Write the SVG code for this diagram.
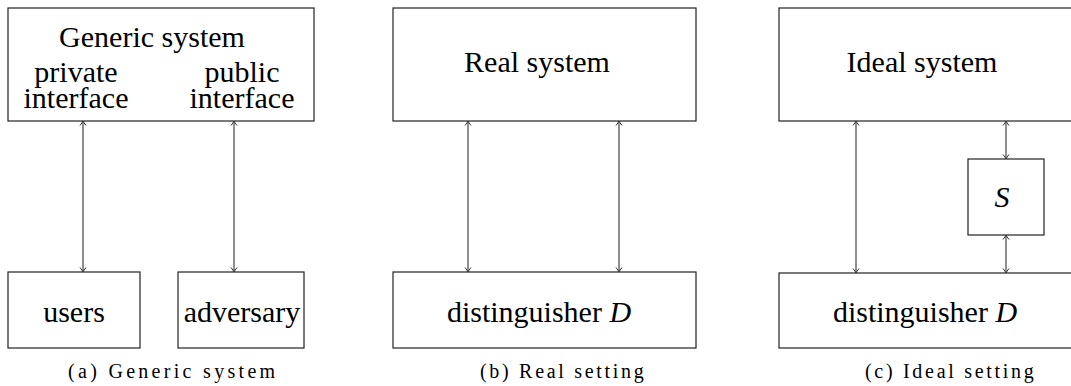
<svg xmlns="http://www.w3.org/2000/svg" width="1071" height="386" viewBox="0 0 1071 386">
  <defs>
    <marker id="tip" viewBox="-6 -4 7 8" markerWidth="7" markerHeight="8" refX="0" refY="0" orient="auto-start-reverse" markerUnits="userSpaceOnUse">
      <path d="M-4.5,-3 Q-1.5,-0.6 0,0 Q-1.5,0.6 -4.5,3" fill="none" stroke="#333" stroke-width="1"/>
    </marker>
  </defs>

  <!-- (a) generic system -->
  <g id="generic-system">
    <rect x="8" y="8" width="306" height="113" fill="#fff" stroke="#222" stroke-width="1.2"/>
    <text x="152" y="47" font-family="Liberation Serif" font-size="30" text-anchor="middle">Generic system</text>
    <text x="76" y="82" font-family="Liberation Serif" font-size="30" text-anchor="middle">private</text>
    <text x="76" y="108" font-family="Liberation Serif" font-size="30" text-anchor="middle">interface</text>
    <text x="242" y="82" font-family="Liberation Serif" font-size="30" text-anchor="middle">public</text>
    <text x="242" y="108" font-family="Liberation Serif" font-size="30" text-anchor="middle">interface</text>
  </g>
  <g id="users">
    <rect x="8" y="272" width="132" height="76" fill="#fff" stroke="#222" stroke-width="1.2"/>
    <text x="74" y="322" font-family="Liberation Serif" font-size="30" text-anchor="middle">users</text>
  </g>
  <g id="adversary">
    <rect x="178" y="272" width="126" height="76" fill="#fff" stroke="#222" stroke-width="1.2"/>
    <text x="242" y="322" font-family="Liberation Serif" font-size="30" text-anchor="middle">adversary</text>
  </g>

  <!-- (b) real setting -->
  <g id="real-system">
    <rect x="393" y="8" width="303" height="113" fill="#fff" stroke="#222" stroke-width="1.2"/>
    <text x="537" y="72" font-family="Liberation Serif" font-size="30" text-anchor="middle">Real system</text>
  </g>
  <g id="distinguisher-real">
    <rect x="393" y="272" width="303" height="76" fill="#fff" stroke="#222" stroke-width="1.2"/>
    <text x="539" y="322" font-family="Liberation Serif" font-size="30" text-anchor="middle">distinguisher <tspan font-style="italic">D</tspan></text>
  </g>

  <!-- (c) ideal setting -->
  <g id="ideal-system">
    <rect x="779" y="8" width="303" height="113" fill="#fff" stroke="#222" stroke-width="1.2"/>
    <text x="922" y="72" font-family="Liberation Serif" font-size="30" text-anchor="middle">Ideal system</text>
  </g>
  <g id="simulator">
    <rect x="968" y="159" width="76" height="76" fill="#fff" stroke="#222" stroke-width="1.2"/>
    <text x="1002" y="207" font-family="Liberation Serif" font-size="30" font-style="italic" text-anchor="middle">S</text>
  </g>
  <g id="distinguisher-ideal">
    <rect x="779" y="273" width="303" height="75" fill="#fff" stroke="#222" stroke-width="1.2"/>
    <text x="925" y="322" font-family="Liberation Serif" font-size="30" text-anchor="middle">distinguisher <tspan font-style="italic">D</tspan></text>
  </g>

  <!-- captions -->
  <g id="captions">
    <text x="68" y="378" font-family="Liberation Serif" font-size="20" letter-spacing="3.3">(a) Generic system</text>
    <text x="480" y="378" font-family="Liberation Serif" font-size="20" letter-spacing="2.7">(b) Real setting</text>
    <text x="865" y="378" font-family="Liberation Serif" font-size="20" letter-spacing="2.7">(c) Ideal setting</text>
  </g>

  <!-- connectors: double-headed links between boxes -->
  <g id="connectors" stroke="#333" stroke-width="1.1" fill="none" marker-start="url(#tip)" marker-end="url(#tip)">
    <line x1="83" y1="121" x2="83" y2="272"/>
    <line x1="234" y1="121" x2="234" y2="272"/>
    <line x1="468" y1="121" x2="468" y2="272"/>
    <line x1="619" y1="121" x2="619" y2="272"/>
    <line x1="856" y1="121" x2="856" y2="273"/>
    <line x1="1006" y1="121" x2="1006" y2="159"/>
    <line x1="1006" y1="235" x2="1006" y2="273"/>
  </g>
</svg>
